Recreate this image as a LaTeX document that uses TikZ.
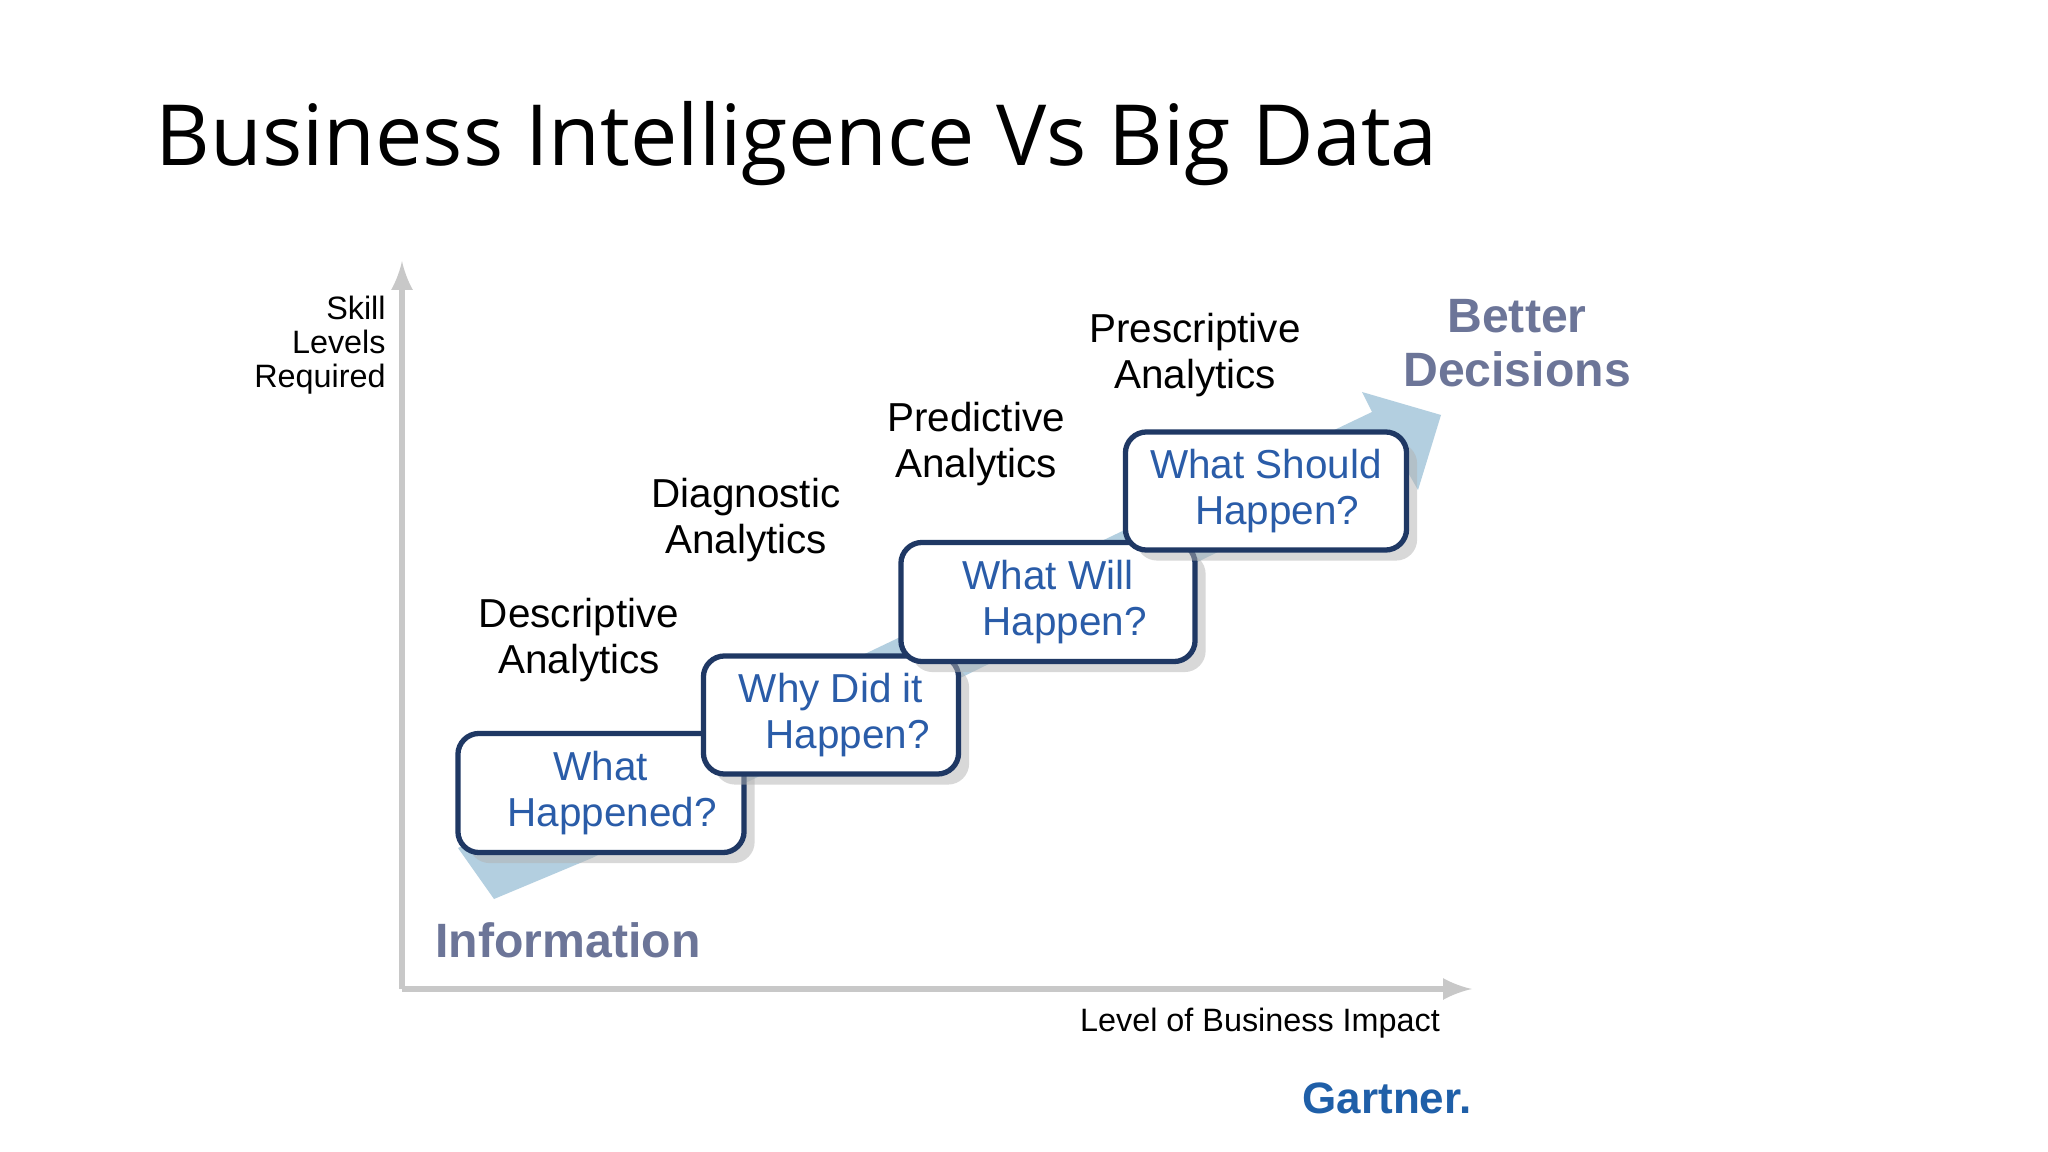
\documentclass[tikz,border=0pt]{standalone}
\usepackage{fontspec}
\setmainfont{Liberation Sans}
\newfontfamily\titlefont{Open Sans}
\usetikzlibrary{shadows}
\definecolor{boxtext}{HTML}{2A5CA8}
\definecolor{boxline}{HTML}{1F3864}
\definecolor{arrowblue}{HTML}{B3CFE0}
\definecolor{infogray}{HTML}{6C7598}
\definecolor{axisgray}{HTML}{C8C8C8}
\definecolor{gartner}{HTML}{1F5FA8}
\tikzset{
  qbox/.style={draw=boxline, line width=1.5pt, rounded corners=6pt, fill=white, text=boxtext,
    align=center, font=\fontsize{11.5}{13}\selectfont, inner sep=0pt,
    drop shadow={shadow xshift=3pt, shadow yshift=-3pt, fill=black!30, opacity=0.5}},
  lab/.style={align=center, font=\fontsize{11.5}{13}\selectfont, text=black},
  big/.style={align=center, font=\bfseries\fontsize{13.7}{15.5}\selectfont, text=infogray},
  axis/.style={draw=axisgray, line width=1.8pt, -latex}
}
\begin{document}
\begin{tikzpicture}[x=0.01cm, y=-0.01cm]
\useasboundingbox[fill=white] (0,0) rectangle (2048,1152);
\node[anchor=west, font=\titlefont\fontsize{24}{28}\selectfont, inner sep=0pt] (title) at (155,144) {Business Intelligence Vs Big Data};
% axes
\coordinate (o) at (402,989);
\coordinate (ytop) at (402,261);
\coordinate (xend) at (1472,989);
\draw[axis] (o) -- (ytop);
\draw[axis] (o) -- (xend);
\node[anchor=east, align=right, font=\fontsize{9.2}{9.7}\selectfont] (skill) at (398,345) {Skill\\Levels\\Required};
\node[font=\fontsize{9.2}{11}\selectfont] (impact) at (1260,1023) {Level of Business Impact};
\node[font=\bfseries\fontsize{12.5}{15}\selectfont, text=gartner] (gartner) at (1387,1098) {Gartner.};
% big arrow
\fill[arrowblue] (494,899) -- (458,848) -- (1372,412) -- (1362,392) -- (1441,415) -- (1418,490) -- (1402,462) -- (592,858) -- cycle;
% boxes
\node[qbox, minimum width=2.86cm, minimum height=1.19cm] (b1) at (601,793) {What\\\ \ Happened?};
\node[qbox, minimum width=2.55cm, minimum height=1.18cm] (b2) at (831,715) {Why Did it\\\ \ \ Happen?};
\node[qbox, minimum width=2.94cm, minimum height=1.19cm] (b3) at (1048,602) {What Will\\\ \ \ Happen?};
\node[qbox, minimum width=2.81cm, minimum height=1.18cm] (b4) at (1266,491) {What Should\\\ \ Happen?};
% labels
\node[lab] (l1) at (579,640) {Descriptive\\Analytics};
\node[lab] (l2) at (746,520) {Diagnostic\\Analytics};
\node[lab] (l3) at (976,444) {Predictive\\Analytics};
\node[lab] (l4) at (1195,355) {Prescriptive\\Analytics};
\node[big] (info) at (568,940) {Information};
\node[big] (better) at (1517,343) {Better\\Decisions};
\end{tikzpicture}
\end{document}
